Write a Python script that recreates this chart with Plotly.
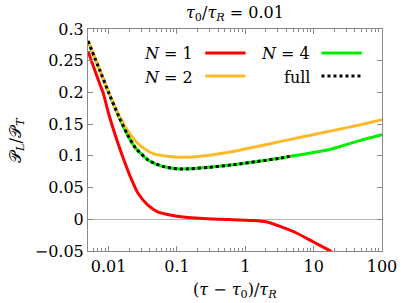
import plotly.graph_objects as go

# ---- data ----
x_n1 = [0.005, 0.0075, 0.0083, 0.0103, 0.0139, 0.0167, 0.0218, 0.027, 0.0373, 0.0514, 0.079, 0.135, 0.186, 0.4, 0.8, 1.3, 2.0, 3.3, 5.7, 9.8, 16.7, 19.0]
y_n1 = [0.265, 0.212, 0.200, 0.162, 0.118, 0.094, 0.062, 0.041, 0.0226, 0.012, 0.0068, 0.0032, 0.002, 0.0, -0.001, -0.002, -0.004, -0.0117, -0.022, -0.0354, -0.0486, -0.053]

x_n2 = [0.005, 0.0075, 0.01, 0.014, 0.0196, 0.025, 0.03, 0.046, 0.07, 0.1, 0.15, 0.2, 0.4, 0.79, 1.5, 3.34, 7.0, 16.7, 48.5, 100.0]
y_n2 = [0.281, 0.235, 0.201, 0.165, 0.138, 0.123, 0.115, 0.103, 0.0995, 0.098, 0.098, 0.099, 0.103, 0.1085, 0.1148, 0.1228, 0.130, 0.1386, 0.149, 0.157]

x_n4 = [0.005, 0.0075, 0.01, 0.014, 0.019, 0.025, 0.0373, 0.05, 0.064, 0.1, 0.15, 0.3, 0.67, 1.5, 3.34, 7.0, 16.7, 48.5, 100.0]
y_n4 = [0.281, 0.234, 0.200, 0.163, 0.133, 0.112, 0.094, 0.087, 0.083, 0.0795, 0.0795, 0.082, 0.086, 0.0912, 0.0965, 0.1026, 0.1097, 0.1245, 0.1334]

x_full = [0.005, 0.0075, 0.01, 0.014, 0.019, 0.025, 0.0373, 0.05, 0.064, 0.1, 0.15, 0.3, 0.67, 1.5, 3.34, 5.0]
y_full = [0.281, 0.234, 0.200, 0.163, 0.133, 0.112, 0.094, 0.087, 0.083, 0.0795, 0.0795, 0.082, 0.086, 0.0912, 0.0965, 0.1005]

x_tickvals = [0.01, 0.1, 1, 10, 100]
x_ticktext = ["0.01", "0.1", "1", "10", "100"]
y_tickvals = [-0.05, 0, 0.05, 0.1, 0.15, 0.2, 0.25, 0.3]
y_ticktext = ["\u22120.05", "0", "0.05", "0.1", "0.15", "0.2", "0.25", "0.3"]
x_minor = [m * 10.0 ** e for e in range(-3, 2) for m in range(2, 10)]
x_minor = [v for v in x_minor if 0.005 <= v <= 100]

series_names = ["<i>N</i> = 1", "<i>N</i> = 2", "<i>N</i> = 4", "full"]
colors = ["#ff0000", "#ffb82a", "#00ee00", "#000000"]

FONT = "DejaVu Serif"
FS = 16
GRAY = "#8a8a8a"

fig = go.Figure()
fig.add_trace(go.Scatter(x=x_n4, y=y_n4, mode="lines", line=dict(color=colors[2], width=3, shape="spline", smoothing=0.6), showlegend=False))
fig.add_trace(go.Scatter(x=x_n2, y=y_n2, mode="lines", line=dict(color=colors[1], width=3, shape="spline", smoothing=0.6), showlegend=False))
fig.add_trace(go.Scatter(x=x_n1, y=y_n1, mode="lines", line=dict(color=colors[0], width=3, shape="spline", smoothing=0.6), showlegend=False))
fig.add_trace(go.Scatter(x=x_full, y=y_full, mode="lines", line=dict(color=colors[3], width=3, dash="dot", shape="spline", smoothing=0.6), showlegend=False))

# manual legend (gnuplot style: text then sample)
L = 88; R = 394; T = 29; B = 251
def px(xp): return (xp - L) / (R - L)
def py(yp): return (B - yp) / (B - T)

legend_items = [
    (series_names[0], colors[0], "solid", 199, 210, 252, 53),
    (series_names[1], colors[1], "solid", 199, 210, 252, 76),
    (series_names[2], colors[2], "solid", 321, 331, 373, 53),
    (series_names[3], colors[3], "dot", 321, 331, 373, 76),
]
for name, col, dash, tx, x0, x1, yy in legend_items:
    fig.add_annotation(xref="paper", yref="paper", x=px(tx), y=py(yy + 1), text=name,
                       showarrow=False, xanchor="right", yanchor="middle",
                       font=dict(family=FONT, size=FS, color="black"))
    fig.add_shape(type="line", xref="paper", yref="paper", x0=px(x0), x1=px(x1),
                  y0=py(yy), y1=py(yy), line=dict(color=col, width=3, dash=dash))

# title and axis titles
fig.add_annotation(xref="paper", yref="paper", x=0.5, y=py(13), text="<i>τ</i><sub>0</sub>/<i>τ</i><sub><i>R</i></sub> = 0.01",
                   showarrow=False, xanchor="center", yanchor="middle", font=dict(family=FONT, size=FS, color="black"))
fig.add_annotation(xref="paper", yref="paper", x=px(241), y=py(290), text="(<i>τ</i> − <i>τ</i><sub>0</sub>)/<i>τ</i><sub><i>R</i></sub>",
                   showarrow=False, xanchor="center", yanchor="middle", font=dict(family=FONT, size=FS, color="black"))
fig.add_annotation(xref="paper", yref="paper", x=px(13), y=py(140), text="𝒫<sub><i>L</i></sub>/𝒫<sub><i>T</i></sub>",
                   showarrow=False, xanchor="center", yanchor="middle", textangle=-90,
                   font=dict(family=FONT, size=FS, color="black"))

fig.update_layout(
    width=409, height=303,
    margin=dict(l=L, r=409 - R, t=T, b=303 - B),
    paper_bgcolor="white", plot_bgcolor="white",
    font=dict(family=FONT, size=FS, color="black"),
    xaxis=dict(type="log", range=[-2.30103, 2.0002], tickvals=x_tickvals, ticktext=x_ticktext,
               ticks="inside", ticklen=5, tickcolor=GRAY, showline=True, linecolor=GRAY, linewidth=1,
               mirror="allticks", showgrid=False, zeroline=False, ticklabelstandoff=1,
               ticklabeloverflow="allow",
               tickfont=dict(family=FONT, size=FS),
               minor=dict(tickvals=x_minor, ticks="inside", ticklen=3, tickcolor=GRAY, showgrid=False)),
    yaxis=dict(range=[-0.05, 0.3], tickvals=y_tickvals, ticktext=y_ticktext,
               ticks="inside", ticklen=5, tickcolor=GRAY, showline=True, linecolor=GRAY, linewidth=1,
               mirror="allticks", showgrid=False, zeroline=True, zerolinecolor="#b0b0b0", zerolinewidth=1,
               tickfont=dict(family=FONT, size=FS)),
)

fig.write_html("out.html", config={"displayModeBar": False},
               post_script="document.body.style.margin='0';document.body.style.overflow='hidden';")
